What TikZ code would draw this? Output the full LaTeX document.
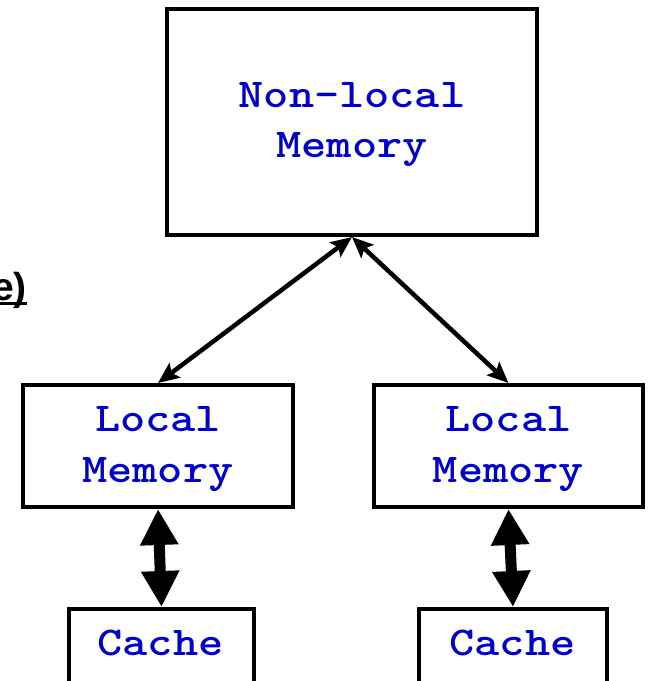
\documentclass[tikz,border=0pt]{standalone}
\usepackage{fontspec}
\newfontfamily\headsans{Liberation Sans}
\usetikzlibrary{arrows.meta}
\definecolor{labelblue}{RGB}{0,0,204}
% wide slab-serif typewriter lettering
\newcommand{\memword}[1]{\scalebox{1.17}[1]{#1}}
\tikzset{
  membox/.style={draw=black, line width=4pt, fill=white, inner sep=0pt},
  memtext/.style={text=labelblue, inner sep=0pt, anchor=base,
    font=\ttfamily\bfseries\fontsize{41}{51}\selectfont},
  thinlink/.style={line width=4.5pt,
    {Stealth[length=21pt,width=18pt,inset=4pt]}-{Stealth[length=21pt,width=18pt,inset=4pt]}},
  thicklink/.style={line width=11pt,
    {Triangle[length=36pt,width=36pt]}-{Triangle[length=36pt,width=36pt]}}
}
\begin{document}
\begin{tikzpicture}[x=1pt, y=-1pt]
  \useasboundingbox (0,0) rectangle (648,681);
  \clip (0,0) rectangle (648,681);

  % boxes
  \node[membox, minimum width=370pt, minimum height=226pt] (nonlocal) at (352,122) {};
  \node[membox, minimum width=270pt, minimum height=122pt] (localL) at (158,446) {};
  \node[membox, minimum width=269pt, minimum height=122pt] (localR) at (508.5,446) {};
  \node[membox, minimum width=185pt, minimum height=109pt] (cacheL) at (161.5,663.5) {};
  \node[membox, minimum width=188pt, minimum height=109pt] (cacheR) at (513,663.5) {};

  % box labels
  \node[memtext] (nl1) at (352,107) {\memword{Non-local}};
  \node[memtext] (nl2) at (352,157) {\memword{Memory}};
  \node[memtext] (lL1) at (158,431) {\memword{Local}};
  \node[memtext] (lL2) at (158,482) {\memword{Memory}};
  \node[memtext] (lR1) at (508.5,431) {\memword{Local}};
  \node[memtext] (lR2) at (508.5,482) {\memword{Memory}};
  \node[memtext] (cL) at (160.5,655) {\memword{Cache}};
  \node[memtext] (cR) at (512.5,655) {\memword{Cache}};

  % connectors
  \draw[thinlink] (nonlocal.south) -- (localL.north);
  \draw[thinlink] (nonlocal.south) -- (localR.north);
  \draw[thicklink] (localL.south) -- (cacheL.north);
  \draw[thicklink] (localR.south) -- (cacheR.north);

  % underlined heading fragment at the left edge
  \node[inner sep=0pt, anchor=base east, font=\headsans\bfseries\fontsize{39}{44}\selectfont]
    (heading) at (27,300) {e)};
  \draw[line width=2.5pt] ([yshift=-3.5pt]heading.base west) -- ([yshift=-3.5pt]heading.base east);
\end{tikzpicture}
\end{document}
